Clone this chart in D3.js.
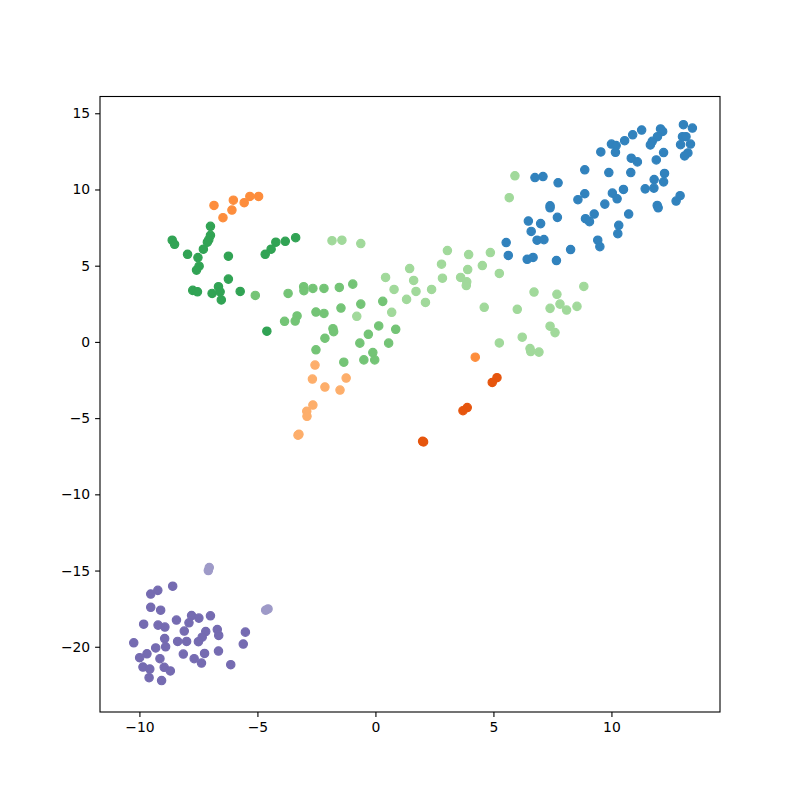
<!DOCTYPE html>
<html>
<head>
<meta charset="utf-8">
<script src="https://cdn.jsdelivr.net/npm/d3@7"></script>
<style>
  body { margin: 0; background: #fff; }
  text { font-family: "DejaVu Sans", sans-serif; }
</style>
</head>
<body>
<div id="chart"></div>
<script>
// clusters, one array of [x, y] per colour
var blue = [[13.05,14.25],[13.43,14.03],[12.08,13.97],[12.17,13.81],[11.28,13.9],[10.9,13.59],[10.56,13.2],
  [10.0,12.98],[10.2,12.88],[10.17,12.44],[9.55,12.46],[11.95,13.46],[11.73,13.16],[11.65,12.92],[13.01,13.46],
  [13.16,13.46],[12.93,12.94],[13.35,12.98],[12.21,12.42],[13.24,12.4],[13.1,12.2],[11.9,11.94],[10.84,12.05],
  [11.1,11.81],[8.87,11.29],[9.89,11.11],[10.82,11.11],[12.25,11.05],[11.81,10.65],[12.21,10.5],[6.76,10.78],
  [7.1,10.85],[7.74,10.44],[11.43,10.04],[11.8,10.09],[10.51,10.0],[10.04,9.76],[10.24,9.39],[9.72,9.04],
  [8.87,9.72],[8.58,9.33],[7.4,8.93],[7.4,8.8],[7.71,8.17],[6.48,7.93],[7.0,7.76],[6.6,7.25],[6.85,6.67],
  [7.14,6.71],[8.9,8.08],[9.07,7.89],[9.27,8.39],[10.73,8.39],[12.91,9.59],[12.74,9.24],[11.94,8.95],
  [11.98,8.8],[10.31,7.65],[10.27,7.1],[9.42,6.67],[9.51,6.25],[8.27,6.06],[7.67,5.34],[5.54,6.52],
  [5.63,5.67],[6.43,5.42],[6.68,5.54]];
var orange = [[-6.84,8.95],[-6.02,9.3],[-6.08,8.65],[-6.46,8.15],[-5.56,9.13],[-5.32,9.54],[-4.95,9.54],[4.23,-1.0]];
var darkOrange = [[5.15,-2.35],[4.95,-2.66],[3.89,-4.31],[3.71,-4.51],[2.04,-6.56],[2.0,-6.52]];
var lightOrange = [[-2.56,-1.52],[-2.67,-2.44],[-2.14,-2.96],[-1.24,-2.37],[-1.5,-3.16],[-2.65,-4.14],
  [-2.91,-4.55],[-2.9,-4.88],[-3.24,-6.06],[-3.28,-6.12]];
var darkGreen = [[-8.61,6.67],[-8.51,6.4],[-6.99,7.58],[-6.99,6.99],[-7.06,6.71],[-7.12,6.54],[-7.29,6.08],
  [-7.96,5.75],[-7.52,5.53],[-7.47,4.97],[-7.58,4.71],[-6.23,5.62],[-3.38,6.84],[-3.82,6.6],[-4.22,6.54],
  [-4.42,6.08],[-4.67,5.75],[-6.23,4.12],[-7.74,3.38],[-7.54,3.29],[-6.65,3.62],[-6.92,3.18],[-6.58,3.29],
  [-6.53,2.75],[-5.73,3.31],[-4.6,0.7]];
var midGreen = [[-3.04,3.62],[-3.03,3.36],[-2.65,3.51],[-2.18,3.51],[-1.53,3.57],[-0.96,3.79],[-3.7,3.18],
  [-3.32,1.7],[-3.4,1.37],[-3.85,1.35],[-2.52,1.96],[-2.18,1.87],[-1.46,2.22],[-0.62,2.48],[0.31,2.66],
  [0.86,0.83],[0.14,1.05],[-0.3,0.5],[-0.66,-0.08],[0.56,-0.08],[-0.11,-0.7],[-0.03,-1.18],[-0.49,-1.18],
  [-1.8,0.87],[-1.77,0.67],[-2.14,0.24],[-2.52,-0.52],[-1.34,-1.33],[-5.09,3.05]];
var lightGreen = [[5.91,10.9],[5.67,9.46],[-1.84,6.64],[-1.42,6.67],[-0.62,6.45],[3.05,5.99],[3.95,5.73],
  [4.87,5.86],[2.8,5.1],[3.91,4.75],[4.53,5.01],[1.45,4.81],[0.43,4.23],[1.62,4.03],[2.84,4.18],[3.61,4.23],
  [3.87,3.94],[3.85,3.7],[0.79,3.44],[1.72,3.31],[2.38,3.44],[1.32,2.79],[2.12,2.59],[4.61,2.27],[0.69,1.94],
  [-0.79,1.68],[5.25,4.49],[5.25,-0.07],[6.01,2.14],[6.72,3.27],[7.69,3.12],[8.83,3.64],[7.82,2.48],
  [7.4,2.2],[8.1,2.09],[8.54,2.33],[7.4,1.03],[7.61,0.61],[6.22,0.31],[6.55,-0.44],[6.93,-0.67],[6.58,-0.63]];
var purple = [[-8.59,-16.03],[-9.52,-16.54],[-9.22,-16.3],[-9.52,-17.41],[-9.1,-17.6],[-9.82,-18.52],
  [-9.21,-18.58],[-8.92,-18.71],[-8.43,-18.25],[-7.79,-17.95],[-7.48,-18.12],[-6.99,-17.97],[-7.9,-18.43],
  [-8.1,-18.97],[-7.19,-19.0],[-7.34,-19.37],[-7.5,-19.67],[-6.7,-18.87],[-6.64,-19.26],[-5.51,-19.04],
  [-5.6,-19.82],[-8.93,-19.46],[-8.89,-20.0],[-8.38,-19.65],[-8.0,-19.65],[-10.24,-19.74],[-9.31,-20.08],
  [-9.68,-20.46],[-9.99,-20.72],[-9.13,-20.78],[-8.14,-20.48],[-7.68,-20.78],[-7.37,-21.07],[-7.24,-20.44],
  [-6.65,-20.28],[-6.13,-21.18],[-9.85,-21.33],[-9.56,-21.46],[-8.95,-21.35],[-8.69,-21.59],[-9.59,-22.03],
  [-9.06,-22.22]];
var lightPurple = [[-7.04,-14.8],[-7.08,-15.0],[-4.55,-17.52],[-4.65,-17.6]];

var groups = [
  {pts: blue, color: "#3182bd"},
  {pts: orange, color: "#fd8d3c"},
  {pts: darkOrange, color: "#e6550d"},
  {pts: lightOrange, color: "#fdae6b"},
  {pts: darkGreen, color: "#31a354"},
  {pts: midGreen, color: "#74c476"},
  {pts: lightGreen, color: "#a1d99b"},
  {pts: purple, color: "#756bb1"},
  {pts: lightPurple, color: "#9e9ac8"}
];

var xTicks = [-10, -5, 0, 5, 10];
var yTicks = [-20, -15, -10, -5, 0, 5, 10, 15];

var W = 800, H = 800;
var mLeft = 100, mRight = 720, mTop = 96.5, mBottom = 712;

var svg = d3.select("#chart").append("svg")
    .attr("width", W).attr("height", H);

var x = d3.scaleLinear().domain([-11.67, 14.6]).range([mLeft, mRight]);
var y = d3.scaleLinear().domain([-24.28, 16.1]).range([mBottom, mTop]);

// points
groups.forEach(function(g){
  svg.append("g").selectAll("circle")
    .data(g.pts)
    .enter().append("circle")
    .attr("cx", function(d){ return x(d[0]); })
    .attr("cy", function(d){ return y(d[1]); })
    .attr("r", 4.17)
    .attr("fill", g.color)
    .attr("stroke", g.color)
    .attr("stroke-width", 1.2);
});

function fmt(d){ return d < 0 ? "\u2212" + Math.abs(d) : d; }

// axes
var xAxis = svg.append("g")
    .attr("transform", "translate(0," + mBottom + ")")
    .call(d3.axisBottom(x).tickValues(xTicks).tickSize(4.9).tickPadding(4.9).tickFormat(fmt));
var yAxis = svg.append("g")
    .attr("transform", "translate(" + mLeft + ",0)")
    .call(d3.axisLeft(y).tickValues(yTicks).tickSize(4.9).tickPadding(4.9).tickFormat(fmt));

[xAxis, yAxis].forEach(function(a){
  a.select(".domain").remove();
  a.selectAll(".tick line").attr("stroke", "#000").attr("stroke-width", 1.1);
  a.selectAll(".tick text").attr("fill", "#000")
    .attr("font-family", "DejaVu Sans").attr("font-size", "13.9px");
});

// frame
svg.append("rect")
    .attr("x", mLeft).attr("y", mTop)
    .attr("width", mRight - mLeft).attr("height", mBottom - mTop)
    .attr("fill", "none").attr("stroke", "#000").attr("stroke-width", 1.1);
</script>
</body>
</html>
